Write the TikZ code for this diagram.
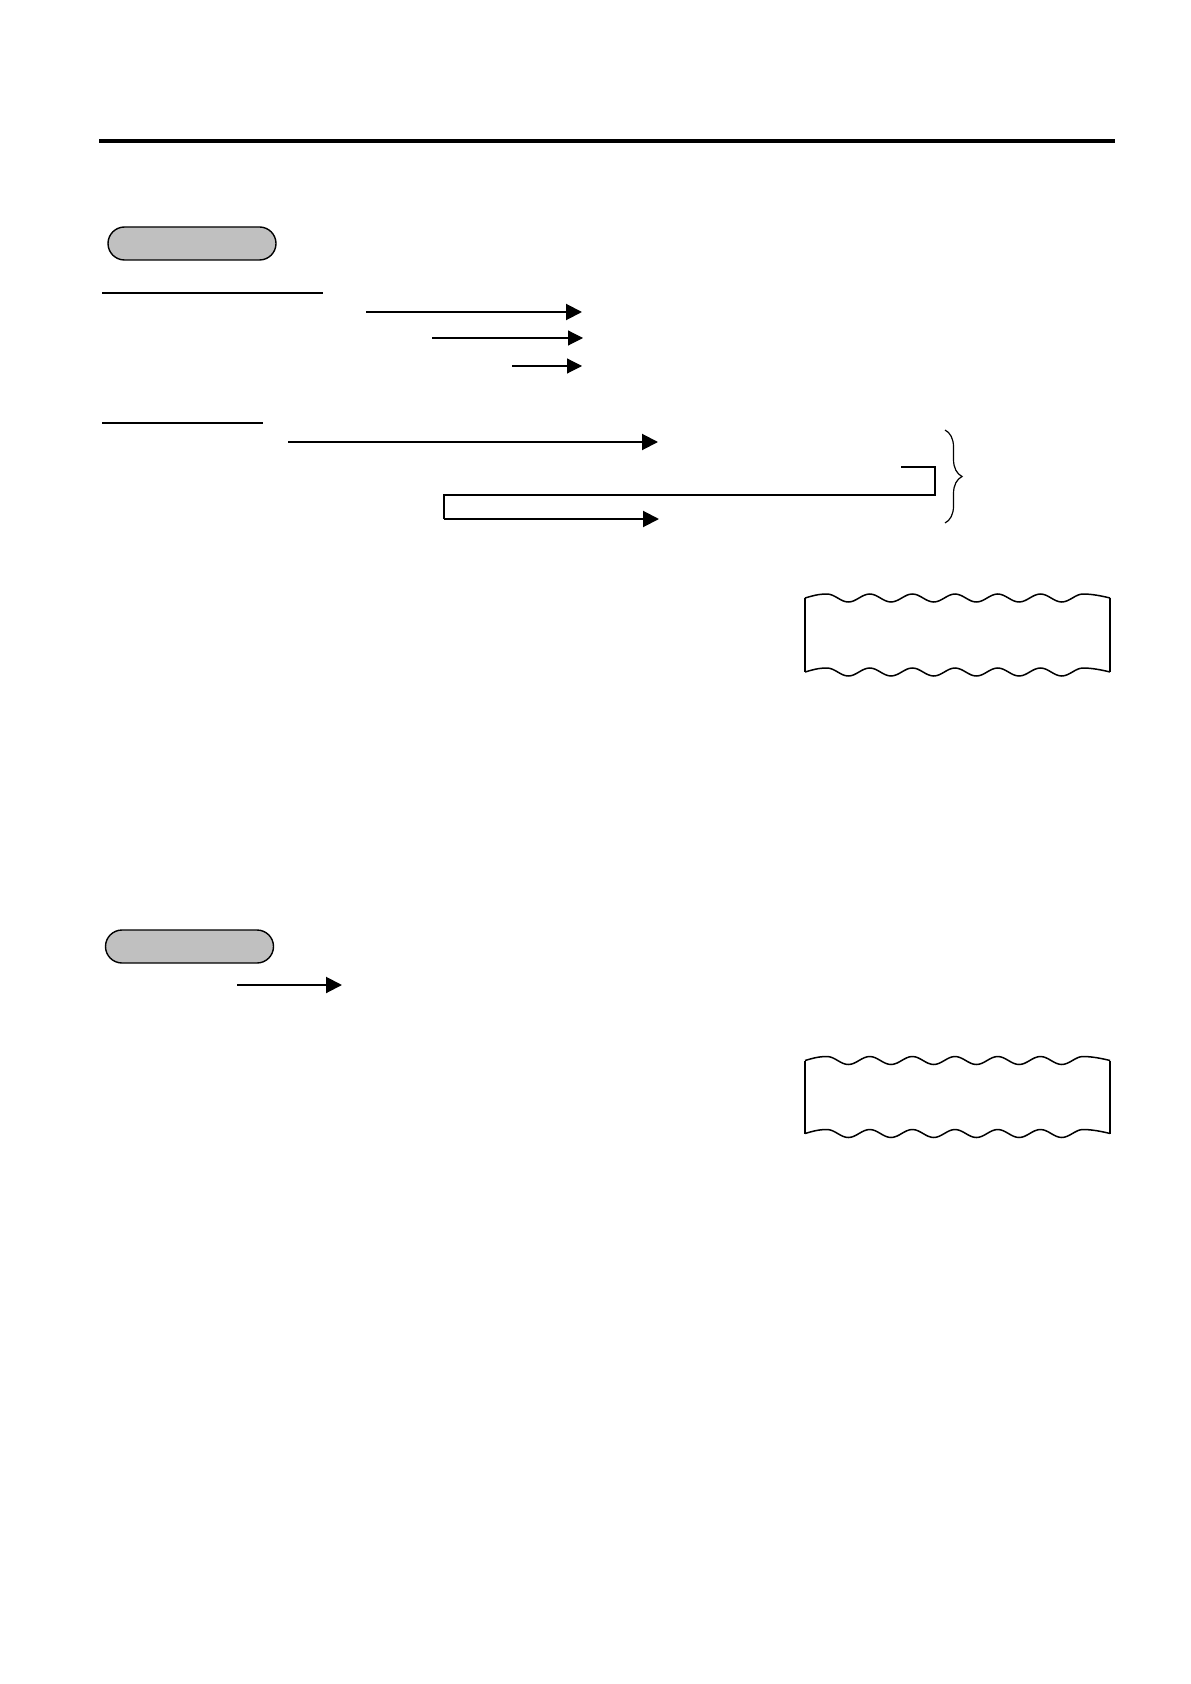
\documentclass[tikz,border=0pt]{standalone}
\usetikzlibrary{arrows.meta,shapes.misc,decorations.pathreplacing}
\definecolor{ovalgray}{RGB}{192,192,192}
\newcommand{\receiptwave}[1]{%
  \draw[receiptline] (805,#1) .. controls (812,#1-2) and (818,#1-4) .. (827,#1-4)
    \foreach \k in {0,...,5} { cos ++(10.67,4) sin ++(10.67,4) cos ++(10.67,-4) sin ++(10.67,-4) }
    .. controls (1092,#1-4) and (1102,#1-2) .. (1110,#1);}
\begin{document}
\begin{tikzpicture}[x=0.5pt,y=-0.5pt,
  oval/.style={rounded rectangle, draw=black, line width=0.7pt, fill=ovalgray,
    minimum width=84pt, minimum height=16.5pt, inner sep=0pt},
  headrule/.style={line width=2.2pt},
  underrule/.style={line width=0.55pt},
  arrthick/.style={line width=1pt, -{Triangle[length=8pt,width=8pt]}},
  arrthin/.style={line width=0.55pt, -{Triangle[length=7.5pt,width=7.5pt]}},
  bracketline/.style={line width=0.6pt},
  bracestyle/.style={line width=0.6pt, decorate, decoration={brace, amplitude=8.5pt}},
  receiptline/.style={line width=0.75pt}]
\useasboundingbox[fill=white] (0,0) rectangle (1190,1684);

% top heavy rule
\coordinate (hl) at (99,141);
\coordinate (hr) at (1115,141);
\draw[headrule] (hl) -- (hr);

% first section
\node[oval] (ovalA) at (192,243.5) {};
\coordinate (u1a) at (102,293);
\coordinate (u1b) at (323,293);
\draw[underrule] (u1a) -- (u1b);

\coordinate (a1s) at (366,312);
\coordinate (a1e) at (582,312);
\draw[arrthick] (a1s) -- (a1e);
\coordinate (a2s) at (432,338);
\coordinate (a2e) at (583,338);
\draw[arrthin] (a2s) -- (a2e);
\coordinate (a3s) at (512,366);
\coordinate (a3e) at (582,366);
\draw[arrthin] (a3s) -- (a3e);

\coordinate (u2a) at (102,423);
\coordinate (u2b) at (263,423);
\draw[underrule] (u2a) -- (u2b);

\coordinate (a4s) at (288,442);
\coordinate (a4e) at (658,442);
\draw[arrthick] (a4s) -- (a4e);

% bracket connector
\coordinate (b1) at (901,467);
\coordinate (b2) at (935,467);
\coordinate (b3) at (935,495);
\coordinate (b4) at (444,495);
\coordinate (b5) at (444,519);
\coordinate (b6) at (659,519);
\draw[bracketline] (b1) -- (b2) -- (b3) -- (b4) -- (b5);
\draw[arrthick] (b5) -- (b6);

% brace
\coordinate (brt) at (945,430);
\coordinate (brb) at (945,523);
\draw[bracestyle] (brt) -- (brb);

% receipt 1
\receiptwave{598}
\receiptwave{672}
\draw[receiptline] (805,598) -- (805,672);
\draw[receiptline] (1110,598) -- (1110,672);

% second section
\node[oval] (ovalB) at (189.5,946.5) {};
\coordinate (a5s) at (237,985);
\coordinate (a5e) at (342,985);
\draw[arrthick] (a5s) -- (a5e);

% receipt 2
\receiptwave{1060.5}
\receiptwave{1133.5}
\draw[receiptline] (805,1060.5) -- (805,1133.5);
\draw[receiptline] (1110,1060.5) -- (1110,1133.5);
\end{tikzpicture}
\end{document}
